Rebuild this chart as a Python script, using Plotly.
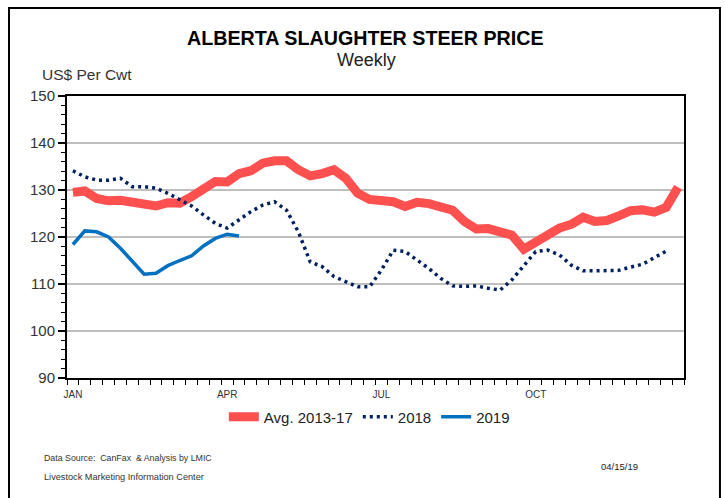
import plotly.graph_objects as go

weeks = list(range(1, 53))
month_ticks = [1, 14, 27, 40]
month_labels = ["JAN", "APR", "JUL", "OCT"]

avg_2013_17 = [129.5, 129.8, 128.2, 127.7, 127.8, 127.5, 127.3, 126.6, 127.3, 127.2,
               128.6, 130.4, 131.8, 131.7, 133.5, 134.1, 135.7, 136.2, 136.2, 134.3,
               133.0, 133.5, 134.3, 132.5, 129.3, 128.0, 127.8, 127.5, 126.5, 127.4,
               127.1, 126.3, 125.7, 123.3, 121.7, 121.8, 120.9, 120.4, 117.4, 119.0,
               120.6, 121.9, 122.7, 124.2, 123.3, 123.5, 124.5, 125.6, 125.8, 125.3,
               126.3, 130.6]

y2018 = [134.1, 132.8, 132.1, 132.1, 132.5, 130.7, 130.7, 130.4, 129.3, 127.9,
         126.6, 124.7, 122.9, 121.9, 123.6, 125.4, 126.8, 127.5, 125.7, 121.1,
         114.7, 113.7, 111.6, 110.5, 109.4, 109.4, 113.0, 117.2, 116.9, 115.1,
         113.3, 111.2, 109.6, 109.5, 109.6, 109.1, 108.7, 110.9, 114.0, 116.9,
         117.2, 116.2, 114.0, 112.8, 112.8, 112.8, 112.9, 113.6, 114.2, 115.6,
         117.0]

y2019 = [118.4, 121.3, 121.1, 120.0, 117.6, 114.9, 112.1, 112.3, 113.9, 115.0,
         116.0, 118.1, 119.7, 120.6, 120.2]

FONT = "Liberation Sans Narrow, Arial Narrow, Liberation Sans, Arial, sans-serif"

fig = go.Figure()
fig.add_trace(go.Scatter(x=weeks[:len(avg_2013_17)], y=avg_2013_17, mode="lines",
                         name="Avg. 2013-17", line=dict(color="#FF5050", width=9)))
fig.add_trace(go.Scatter(x=weeks[:len(y2018)], y=y2018, mode="lines",
                         name="2018", line=dict(color="#002060", width=3.5, dash="3px,4px")))
fig.add_trace(go.Scatter(x=weeks[:len(y2019)], y=y2019, mode="lines",
                         name="2019", line=dict(color="#0070C0", width=3.5)))

fig.update_layout(
    width=725, height=498,
    margin=dict(l=67, r=41, t=96, b=120),
    paper_bgcolor="white", plot_bgcolor="white",
    font=dict(family=FONT, color="#333333"),
    showlegend=True,
    legend=dict(orientation="h", x=0.49, xanchor="center", y=-0.138, yanchor="middle",
                font=dict(size=15, family=FONT, color="#222222"), itemwidth=30,
                tracegroupgap=0),
    xaxis=dict(range=[0.5, 52.5], tickmode="array", tickvals=month_ticks, ticktext=month_labels,
               ticks="", showgrid=False, zeroline=False, ticklabelstandoff=6,
               showline=True, linecolor="black", linewidth=2, mirror=True,
               tickfont=dict(size=10, family=FONT, color="#333333"),
               minor=dict(tickmode="array", tickvals=[w - 0.5 for w in weeks] + [52.5],
                          ticks="outside", ticklen=5, tickcolor="black", tickwidth=1)),
    yaxis=dict(range=[90, 150], tickmode="linear", tick0=90, dtick=10,
               ticks="outside", ticklen=7, tickcolor="black", tickwidth=1.5,
               showgrid=True, gridcolor="#BFBFBF", gridwidth=1.5, zeroline=False,
               showline=True, linecolor="black", linewidth=2, mirror=True,
               tickfont=dict(size=15, family=FONT, color="#333333"),
               minor=dict(dtick=2, tick0=90, ticks="outside", ticklen=4,
                          tickcolor="black", tickwidth=1, showgrid=False)),
)

fig.add_annotation(text="<b>ALBERTA SLAUGHTER STEER PRICE</b>", xref="paper", yref="paper",
                   x=0.4846, y=1.2057, xanchor="center", yanchor="middle", showarrow=False,
                   font=dict(size=19.7, family=FONT, color="black"))
fig.add_annotation(text="Weekly", xref="paper", yref="paper",
                   x=0.486, y=1.128, xanchor="center", yanchor="middle", showarrow=False,
                   font=dict(size=18, family=FONT, color="#222222"))
fig.add_annotation(text="US$ Per Cwt", xref="paper", yref="paper",
                   x=-0.0438, y=1.078, xanchor="left", yanchor="middle", showarrow=False,
                   font=dict(size=15.5, family=FONT, color="#333333"))
fig.add_annotation(text="Data Source:  CanFax  & Analysis by LMIC", xref="paper", yref="paper",
                   x=-0.0405, y=-0.2837, xanchor="left", yanchor="middle", showarrow=False,
                   font=dict(size=8.8, family=FONT, color="#333333"))
fig.add_annotation(text="Livestock Marketing Information Center", xref="paper", yref="paper",
                   x=-0.0405, y=-0.351, xanchor="left", yanchor="middle", showarrow=False,
                   font=dict(size=9.2, family=FONT, color="#333333"))
fig.add_annotation(text="04/15/19", xref="paper", yref="paper",
                   x=0.8947, y=-0.3156, xanchor="center", yanchor="middle", showarrow=False,
                   font=dict(size=9.5, family=FONT, color="#222222"))

fig.add_shape(type="rect", xref="paper", yref="paper",
              x0=-0.094, x1=1.0583, y0=-0.48, y1=1.312,
              line=dict(color="black", width=2), fillcolor="rgba(0,0,0,0)", layer="below")

fig.write_html("out.html", config={"displayModeBar": False},
               post_script="document.body.style.margin='0px';document.body.style.padding='0px';")
